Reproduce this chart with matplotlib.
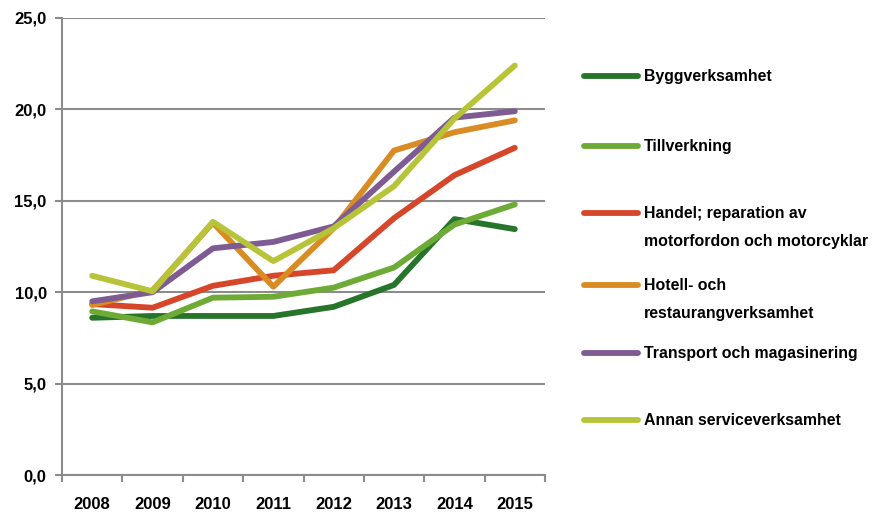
import matplotlib
matplotlib.use("Agg")
import matplotlib.pyplot as plt
from matplotlib.lines import Line2D
import numpy as np

years = ["2008", "2009", "2010", "2011", "2012", "2013", "2014", "2015"]
bygg = [8.6, 8.7, 8.7, 8.7, 9.2, 10.4, 14.0, 13.45]
tillverkning = [8.95, 8.35, 9.7, 9.75, 10.25, 11.35, 13.7, 14.8]
handel = [9.35, 9.15, 10.35, 10.9, 11.2, 14.05, 16.4, 17.9]
hotell = [9.3, 10.1, 13.8, 10.3, 13.5, 17.75, 18.75, 19.4]
transport = [9.5, 10.0, 12.4, 12.75, 13.6, 16.6, 19.55, 19.9]
annan = [10.9, 10.05, 13.85, 11.7, 13.5, 15.8, 19.5, 22.4]

labels = ["Byggverksamhet", "Tillverkning",
          "Handel; reparation av\nmotorfordon och motorcyklar",
          "Hotell- och\nrestaurangverksamhet",
          "Transport och magasinering",
          "Annan serviceverksamhet"]
series = [bygg, tillverkning, handel, hotell, transport, annan]
colors = ["#27742b", "#6eab36", "#d6462a", "#d98b24", "#7e5b93", "#b7c437"]
yticks = [0, 5, 10, 15, 20, 25]
ytick_labels = ["0,0", "5,0", "10,0", "15,0", "20,0", "25,0"]

plt.rcParams['font.family'] = ['Liberation Sans', 'DejaVu Sans']
plt.rcParams['font.weight'] = 'bold'

fig = plt.figure(figsize=(8.75, 5.13), dpi=100)
ax = fig.add_axes([62/875, 1-475/513, (545-62)/875, (475-18)/513])

x = np.arange(len(years))
for s, c in zip(series, colors):
    ax.plot(x, s, color=c, lw=4.2, solid_capstyle='round', solid_joinstyle='round', zorder=3)

ax.set_xlim(-0.5, len(years) - 0.5)
ax.set_ylim(0, 25)
ax.set_yticks(yticks)
ax.set_yticklabels(ytick_labels, fontsize=12, fontweight='bold')
ax.set_xticks(x)
ax.set_xticklabels(years, fontsize=12, fontweight='bold')
ax.set_xticks(np.arange(-0.5, len(years)), minor=True)
ax.tick_params(axis='x', which='major', length=0, pad=16)
ax.tick_params(axis='x', which='minor', length=5, width=1.5, color='#8c8c8c')
ax.tick_params(axis='y', length=5, width=1.5, color='#8c8c8c', pad=6)
ax.yaxis.grid(True, color='#8c8c8c', lw=1.5)
ax.set_axisbelow(True)
for sp in ['top', 'right']:
    ax.spines[sp].set_visible(False)
for sp in ['left', 'bottom']:
    ax.spines[sp].set_color('#8c8c8c')
    ax.spines[sp].set_linewidth(1.5)

# legend
leg_y = [76, 146, 213, 285, 353, 420]
for lab, c, yy in zip(labels, colors, leg_y):
    yf = 1 - yy/513
    fig.add_artist(Line2D([584/875, 638/875], [yf, yf], transform=fig.transFigure,
                          color=c, lw=4.2, solid_capstyle='round'))
    fig.text(644/875, yf + 7/513, lab, fontsize=11.4, fontweight='bold', va='top',
             ha='left', linespacing=2.05, transform=fig.transFigure)

fig.savefig("out.png", dpi=100)
